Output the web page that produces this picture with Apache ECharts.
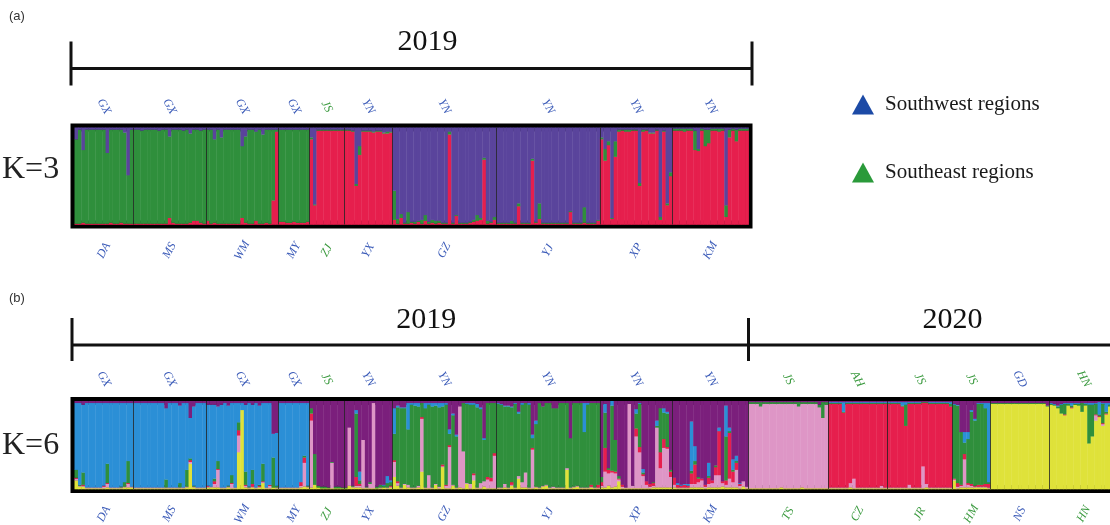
<!DOCTYPE html>
<html><head><meta charset="utf-8">
<script src="https://cdn.jsdelivr.net/npm/echarts@6.0.0/dist/echarts.min.js"></script>
<style>html,body{margin:0;padding:0;background:#fff}#c{width:1110px;height:525px}</style>
</head><body><div id="c"></div><script>
// ---------------- DATA ----------------
const pops2019 = ['DA','MS','WM','MY','ZJ','YX','GZ','YJ','XP','KM'];
const prov2019 = ['GX','GX','GX','GX','JS','YN','YN','YN','YN','YN'];
const size2019 = [17,21,21,9,10,14,30,30,21,22];
const pops2020 = ['TS','CZ','JR','HM','NS','HN'];
const prov2020 = ['JS','AH','JS','JS','GD','HN'];
const size2020 = [23,17,19,11,17,20];
const southwestProvinces = ['GX','YN','GD'];
const yearLabels = ['2019','2020'];
const legendNames = ['Southwest regions','Southeast regions'];
const kLabels = ['K=3','K=6'];
const panelLabels = ['(a)','(b)'];

// K=3 ancestry proportions (%), per individual, 2019 populations in order
const k3Red = [
 1,1,2,1,1,1,1,1,1,1,2,1,1,2,1,1,1,
 1,1,1,1,1,1,1,1,1,1,7,2,1,1,1,1,2,4,4,2,1,
 4,1,2,1,1,1,1,1,1,1,7,2,1,1,4,1,1,2,1,25,96,
 3,3,2,2,3,2,2,2,3,
 88,20,97,97,97,97,97,97,97,97,
 97,97,96,40,72,96,96,96,95,96,96,94,94,95,
 5,1,7,1,1,2,1,3,1,4,1,2,1,2,1,1,93,1,9,1,1,1,2,3,4,5,67,1,2,5,
 1,1,1,1,1,1,19,1,1,1,66,2,6,1,1,1,1,1,1,1,1,13,1,1,1,2,1,1,1,4,
 88,66,82,6,70,96,97,96,96,97,97,40,96,97,94,94,97,5,96,20,50,
 97,97,97,96,97,97,77,76,97,81,84,97,97,96,97,8,90,97,86,97,97,97
];
const k3Green = [
 87,97,75,97,97,97,97,97,97,73,96,97,97,96,94,50,97,
 97,97,96,97,97,97,97,96,97,97,84,96,97,97,96,97,92,94,94,95,97,
 94,97,86,97,89,97,97,97,97,97,74,89,97,97,92,97,92,96,97,73,2,
 95,95,96,96,95,96,96,96,95,
 2,1,1,1,1,1,1,1,1,1,
 1,1,1,2,9,1,1,1,1,1,1,1,2,1,
 30,5,4,1,12,1,2,1,4,6,2,3,3,2,1,1,3,1,1,1,1,1,1,2,6,2,2,3,1,3,
 1,1,1,1,3,1,3,1,1,1,2,1,16,1,1,1,1,1,1,1,1,1,1,1,1,16,1,1,1,1,
 2,12,4,1,16,2,1,2,2,1,1,3,2,1,1,1,1,3,1,2,4,
 2,2,2,3,2,2,20,2,2,17,14,2,2,3,2,12,8,2,12,2,2,2
];
const k3Purple = [
 12,2,23,2,2,2,2,2,2,26,2,2,2,2,5,49,2,
 2,2,3,2,2,2,2,3,2,2,9,2,2,2,3,2,6,2,2,3,2,
 2,2,12,2,10,2,2,2,2,2,19,9,2,2,4,2,7,2,2,2,2,
 2,2,2,2,2,2,2,2,2,
 10,79,2,2,2,2,2,2,2,2,
 2,2,3,58,19,3,3,3,4,3,3,5,4,4,
 65,94,89,98,87,97,97,96,95,90,97,95,96,96,98,98,4,98,90,98,98,98,97,95,90,93,31,96,97,92,
 98,98,98,98,96,98,78,98,98,98,32,97,78,98,98,98,98,98,98,98,98,86,98,98,98,82,98,98,98,95,
 10,22,14,93,14,2,2,2,2,2,2,57,2,2,5,5,2,92,3,78,46,
 1,1,1,1,1,1,3,22,1,2,2,1,1,1,1,80,2,1,2,1,1,1
];

// K=6 ancestry proportions (%), 2019 then 2020 populations in order
const k6Yellow = [
 10,3,3,1,1,1,1,1,1,2,1,1,1,1,2,2,2,
 1,1,1,1,1,1,1,1,1,1,1,1,1,1,1,2,29,2,1,1,1,
 2,2,2,2,1,1,2,1,1,42,90,2,1,2,1,2,7,1,1,2,1,
 1,1,1,1,1,1,2,3,2,
 2,5,2,1,1,1,1,1,1,1,
 1,4,2,2,2,1,1,1,1,1,1,2,1,2,
 14,4,1,5,2,1,1,2,20,1,1,1,5,1,25,1,1,4,1,2,1,6,1,10,1,1,3,1,1,1,
 1,1,2,1,4,1,12,2,2,1,1,2,1,3,4,1,1,1,1,1,22,1,2,3,1,1,1,2,1,1,
 2,2,4,2,3,9,1,1,1,1,1,1,1,1,1,2,2,2,2,2,2,
 2,1,1,1,1,2,2,2,2,1,2,2,2,2,3,2,2,2,2,1,3,1,
 1,1,1,1,1,1,1,1,1,2,1,1,1,1,1,2,1,1,1,1,1,1,1,
 1,1,1,1,1,1,2,1,1,1,1,1,1,1,1,1,1,
 1,1,1,1,1,1,1,1,1,1,1,2,1,1,1,1,1,1,1,
 10,1,2,2,2,2,2,2,2,2,1,
 97,97,97,97,97,97,97,97,97,97,97,97,97,97,97,97,94,
 96,95,92,86,84,95,92,96,95,88,95,52,60,78,82,72,85,94,95,95
];
const k6Pink = [
 2,1,1,1,1,1,1,1,2,4,1,1,1,1,1,4,1,
 1,1,1,1,1,1,1,1,1,1,1,1,1,1,1,1,2,1,1,1,1,
 1,1,4,20,1,1,1,5,1,19,0,2,1,1,1,1,1,1,3,0,1,
 1,1,1,1,1,1,2,27,1,
 76,0,0,0,0,0,29,0,0,0,
 0,66,1,2,2,55,1,5,97,0,1,0,1,1,
 17,3,1,1,3,1,1,2,60,1,15,1,1,2,1,3,47,1,1,92,42,1,5,6,1,6,6,10,8,37,
 1,1,4,1,1,1,3,6,17,1,44,1,1,1,1,1,2,1,1,1,2,1,1,1,1,1,1,1,1,1,
 2,18,14,17,15,2,2,1,96,3,59,41,14,4,2,2,68,22,45,44,12,
 3,1,1,1,1,4,4,6,8,2,4,5,14,14,4,3,10,6,20,3,6,2,
 96,96,96,93,96,96,96,96,96,95,96,96,96,96,93,95,96,96,96,96,92,80,95,
 1,1,1,1,1,1,5,11,1,1,1,1,1,1,1,3,1,
 1,1,1,1,1,1,4,1,1,1,25,4,1,1,1,1,1,1,1,
 1,2,2,32,3,2,1,1,1,1,1,
 0,0,0,0,0,0,0,0,0,0,0,0,0,0,0,0,0,
 0,0,0,0,0,0,0,0,0,0,0,0,0,6,0,2,0,0,0,0
];
const k6Red = [
 1,0,1,0,0,0,0,0,1,1,0,0,0,0,0,1,0,
 0,0,0,0,0,0,0,0,0,0,0,0,0,0,0,0,2,0,0,0,0,
 1,0,3,1,0,0,0,1,0,6,0,1,0,3,0,1,1,0,1,0,0,
 0,0,0,0,0,0,4,6,0,
 8,0,0,0,0,0,0,0,0,0,
 0,0,0,10,2,0,0,0,0,0,0,0,0,1,
 2,2,0,0,0,0,0,0,2,0,0,0,0,0,2,1,2,0,0,0,0,0,0,2,0,0,0,3,4,3,
 0,0,0,0,3,0,0,0,0,0,2,0,0,0,0,0,0,0,0,0,0,0,0,0,0,0,0,2,0,3,
 4,27,4,2,2,1,2,0,0,0,9,6,2,4,3,3,0,18,10,2,6,
 8,3,2,3,2,12,22,4,2,2,7,3,9,50,2,5,52,12,8,2,0,0,
 0,0,0,0,0,0,0,0,0,0,0,0,0,0,0,0,0,0,0,0,0,0,0,
 95,95,95,95,85,95,90,85,95,95,95,95,95,95,95,93,95,
 95,95,95,95,92,70,92,95,95,95,72,92,95,95,95,95,95,95,92,
 1,4,1,6,2,2,1,2,2,3,4,
 0,0,0,0,0,0,0,0,0,0,0,0,0,0,0,0,0,
 0,0,0,0,1,0,1,0,0,0,0,0,0,1,1,1,1,0,0,0
];
const k6Green = [
 9,1,14,0,0,0,0,0,0,22,0,0,0,1,5,25,0,
 0,0,0,0,0,0,0,0,0,9,0,0,0,5,0,19,2,1,0,0,0,
 0,0,3,9,0,0,1,9,0,9,0,15,1,16,0,1,20,0,0,34,2,
 0,0,0,0,0,0,0,2,1,
 6,35,2,2,2,1,1,2,2,1,
 1,0,1,72,4,0,1,2,0,2,3,2,5,4,
 30,84,90,86,63,94,93,90,16,90,80,92,89,90,66,91,13,79,58,0,55,90,90,78,91,84,47,84,85,57,
 95,94,88,92,85,95,71,88,79,94,11,71,96,90,93,96,89,90,96,96,74,56,95,94,96,63,94,93,96,93,
 6,40,2,74,36,3,0,0,0,0,17,49,2,0,0,1,2,50,30,38,2,
 0,0,0,0,0,3,4,2,0,0,2,0,2,0,0,50,2,2,2,0,0,0,
 2,2,2,5,2,2,2,2,2,2,2,2,2,2,5,2,2,2,2,2,3,18,3,
 1,1,1,1,1,1,1,1,1,1,1,1,1,1,1,1,1,
 1,1,1,1,1,24,1,1,1,1,1,1,1,1,1,1,1,1,3,
 84,88,60,13,50,82,74,92,92,86,2,
 1,1,1,1,1,1,1,1,1,1,1,1,1,1,1,1,1,
 1,1,2,10,12,2,2,1,2,10,2,44,36,12,2,22,2,2,2,2
];
const k6Blue = [
 76,93,77,96,96,96,96,96,94,69,96,96,96,95,90,66,95,
 96,96,96,96,96,96,96,96,96,81,96,96,96,88,96,76,46,90,96,96,96,
 92,93,84,62,94,96,91,82,96,22,8,76,95,74,96,90,69,96,93,27,60,
 96,96,96,96,96,96,90,60,94,
 0,0,0,0,0,0,0,0,0,0,
 0,0,0,4,10,0,0,0,0,0,0,1,8,2,
 29,2,1,1,30,2,3,4,0,6,2,4,3,5,4,2,5,2,2,0,0,1,2,2,4,2,2,0,0,0,
 1,1,1,1,1,1,2,2,0,2,4,4,0,0,0,0,0,0,0,0,0,0,0,0,0,33,2,0,0,0,
 0,10,0,5,0,0,0,0,0,0,5,1,4,0,0,0,6,0,5,2,0,
 0,2,1,1,2,56,17,0,0,0,15,0,0,4,0,35,4,12,6,1,0,0,
 0,0,0,0,0,0,0,0,0,0,0,0,0,0,0,0,0,0,0,0,0,0,0,
 1,1,1,1,11,1,1,1,1,1,1,1,1,1,1,1,1,
 1,1,1,1,4,3,1,1,1,1,0,0,1,1,1,1,1,1,2,
 1,1,0,12,8,2,2,1,1,6,90,
 0,0,0,0,0,0,0,0,0,0,0,0,0,0,0,0,0,
 1,1,1,1,1,1,3,1,1,0,1,2,2,1,14,1,10,2,1,1
];
const k6Purple = [
 2,2,4,2,2,2,2,2,2,2,2,2,2,2,2,2,2,
 2,2,2,2,2,2,2,2,2,8,2,2,2,5,2,2,19,6,2,2,2,
 4,4,4,6,4,2,5,2,2,2,2,4,2,4,2,5,2,2,2,37,36,
 2,2,2,2,2,2,2,2,2,
 8,60,96,97,97,98,69,97,97,98,
 98,30,96,10,80,44,97,92,2,97,95,95,85,90,
 8,5,7,7,2,2,2,2,2,2,2,2,2,2,2,2,32,14,38,6,2,2,2,2,3,7,42,2,2,2,
 2,3,5,5,6,2,12,2,2,2,38,22,2,6,2,2,8,8,2,2,2,42,2,2,2,2,2,2,2,2,
 86,3,76,0,44,85,95,98,3,96,9,2,77,91,94,92,22,8,8,12,78,
 87,93,95,94,94,23,51,86,88,95,70,90,73,30,91,5,30,66,62,93,91,97,
 1,1,1,1,1,1,1,1,1,1,1,1,1,1,1,1,1,1,1,1,4,1,1,
 1,1,1,1,1,1,1,1,1,1,1,1,1,1,1,1,1,
 1,1,1,1,1,1,1,1,1,1,1,1,1,1,1,1,1,1,1,
 3,4,35,35,35,10,20,2,2,2,2,
 2,2,2,2,2,2,2,2,2,2,2,2,2,2,2,2,5,
 2,3,5,3,2,2,2,2,2,2,2,2,2,2,1,2,2,2,2,2
];

// ---------------- STYLE ----------------
const SW = '#3b5bb8', SE = '#3b9a3f';
const k3Colors = ['#e61f4d', '#2f8f3c', '#5a449c'];
const k6Colors = ['#dfe23a', '#de96c6', '#e61f4d', '#2f8f3c', '#2b8fd6', '#7b1f7c'];
const SERIF = '"Liberation Serif", "DejaVu Serif", serif';

function bounds(sizes) { const b = []; let c = 0; sizes.forEach(s => { c += s; b.push(c); }); return b; }
function centers(sizes) { const r = []; let c = 0; sizes.forEach(s => { r.push(c + s / 2); c += s; }); return r; }

const n2019 = size2019.reduce((a, b) => a + b, 0);
const allSizes = size2019.concat(size2020);
const nAll = allSizes.reduce((a, b) => a + b, 0);
const allPops = pops2019.concat(pops2020);
const allProv = prov2019.concat(prov2020);

function tag(p) { return southwestProvinces.indexOf(p) >= 0 ? 'sw' : 'se'; }

function labelAxis(gridIndex, pos, max, sizes, texts, provs, margin) {
  const cs = centers(sizes);
  const map = {};
  cs.forEach((c, i) => { map[c.toFixed(2)] = '{' + tag(provs[i]) + '|' + texts[i] + '}'; });
  return {
    type: 'value', gridIndex, position: pos, min: 0, max,
    axisLine: { show: false }, axisTick: { show: false }, splitLine: { show: false },
    axisLabel: {
      show: true, customValues: cs, rotate: 62, margin, align: 'center', verticalAlign: 'middle',
      formatter: v => map[Number(v).toFixed(2)] || '',
      rich: {
        sw: { color: SW, fontFamily: SERIF, fontStyle: 'italic', fontSize: 12 },
        se: { color: SE, fontFamily: SERIF, fontStyle: 'italic', fontSize: 12 }
      }
    }
  };
}

function render(colors) {
  return function (params, api) {
    const i = api.value(0);
    const children = [];
    let cum = 0;
    for (let k = 0; k < colors.length; k++) {
      const v = api.value(k + 1);
      if (v > 0) {
        const p0 = api.coord([i, cum]);
        const p1 = api.coord([i + 1, cum + v]);
        children.push({ type: 'rect', shape: { x: p0[0], y: p1[1], width: p1[0] - p0[0] + 0.4, height: p0[1] - p1[1] + 0.3 },
          style: { fill: colors[k] } });
      }
      cum += v;
    }
    return { type: 'group', children };
  };
}

const dataK3 = k3Red.map((r, i) => [i, r, k3Green[i], k3Purple[i]]);
const dataK6 = k6Yellow.map((y, i) => [i, y, k6Pink[i], k6Red[i], k6Green[i], k6Blue[i], k6Purple[i]]);

function dividers(sizes) {
  const b = bounds(sizes); b.pop();
  return { silent: true, symbol: 'none', label: { show: false }, animation: false,
    lineStyle: { color: '#222', width: 1, type: 'solid', opacity: 0.8 },
    data: b.map(x => ({ xAxis: x })) };
}

const unit = 674 / n2019;
const chart = echarts.init(document.getElementById('c'), null, { renderer: 'canvas' });
chart.setOption({
  animation: false,
  backgroundColor: '#fff',
  grid: [
    { left: 74.5, top: 127.5, width: 674, height: 97, show: true, borderColor: '#000', borderWidth: 8, backgroundColor: '#fff', outerBoundsMode: 'none' },
    { left: 74.5, top: 401, width: unit * nAll, height: 88, show: true, borderColor: '#000', borderWidth: 8, backgroundColor: '#fff', outerBoundsMode: 'none' }
  ],
  xAxis: [
    labelAxis(0, 'bottom', n2019, size2019, pops2019, prov2019, 26),
    labelAxis(0, 'top', n2019, size2019, prov2019, prov2019, 21),
    labelAxis(1, 'bottom', nAll, allSizes, allPops, allProv, 25),
    labelAxis(1, 'top', nAll, allSizes, allProv, allProv, 22)
  ],
  yAxis: [
    { type: 'value', gridIndex: 0, min: 0, max: 100, show: false },
    { type: 'value', gridIndex: 1, min: 0, max: 100, show: false }
  ],
  legend: {
    left: 847, top: 89, orient: 'vertical', itemGap: 47, icon: 'triangle', itemWidth: 22, itemHeight: 20,
    selectedMode: false,
    textStyle: { fontFamily: SERIF, fontSize: 21, color: '#1a1a1a', padding: [0, 0, 0, 6] },
    data: legendNames
  },
  series: [
    { type: 'custom', name: 'K3', xAxisIndex: 0, yAxisIndex: 0, data: dataK3, renderItem: render(k3Colors),
      encode: { x: 0, y: 1 }, markLine: dividers(size2019), z: 2 },
    { type: 'custom', name: 'K6', xAxisIndex: 2, yAxisIndex: 1, data: dataK6, renderItem: render(k6Colors),
      encode: { x: 0, y: 1 }, markLine: dividers(allSizes), z: 2 },
    { type: 'scatter', name: legendNames[0], xAxisIndex: 0, yAxisIndex: 0, data: [], itemStyle: { color: '#1c4aa6', opacity: 1 } },
    { type: 'scatter', name: legendNames[1], xAxisIndex: 0, yAxisIndex: 0, data: [], itemStyle: { color: '#2a9a3a', opacity: 1 } }
  ]
});

// brackets / decorations positioned from the axes
const aL = chart.convertToPixel({ xAxisIndex: 0 }, 0) - 3.5;
const aR = chart.convertToPixel({ xAxisIndex: 0 }, n2019) + 3.5;
const bL = chart.convertToPixel({ xAxisIndex: 2 }, 0) - 2.5;
const bM = chart.convertToPixel({ xAxisIndex: 2 }, n2019);
const bR = chart.convertToPixel({ xAxisIndex: 2 }, nAll);
const ink = '#111';
function vline(x, y1, y2) { return { type: 'line', shape: { x1: x, y1, x2: x, y2 }, style: { stroke: ink, lineWidth: 3 } }; }
function hline(x1, x2, y) { return { type: 'line', shape: { x1, y1: y, x2, y2: y }, style: { stroke: ink, lineWidth: 3 } }; }
function txt(t, x, y, font, align, color) {
  return { type: 'text', x, y, style: { text: t, font, fill: color || '#111', align: align || 'center', verticalAlign: 'middle' } };
}
const yA = 68.5, yB = 345;
chart.setOption({
  graphic: [
    vline(aL, yA - 27, yA + 17), vline(aR, yA - 27, yA + 17), hline(aL, aR, yA),
    vline(bL, yB - 27, yB + 16), vline(bM, yB - 27, yB + 16), hline(bL, bR + 40, yB),
    txt(yearLabels[0], (aL + aR) / 2 + 16, 42, '30px ' + SERIF),
    txt(yearLabels[0], (bL + bM) / 2 + 16, 320, '30px ' + SERIF),
    txt(yearLabels[1], chart.convertToPixel({ xAxisIndex: 2 }, bounds(allSizes)[12]), 320, '30px ' + SERIF),
    txt(kLabels[0], 2, 170, '32px ' + SERIF, 'left', '#222'),
    txt(kLabels[1], 2, 446, '32px ' + SERIF, 'left', '#222'),
    txt(panelLabels[0], 9, 16, '13px "Liberation Sans", Arial, sans-serif', 'left', '#333'),
    txt(panelLabels[1], 9, 298, '13px "Liberation Sans", Arial, sans-serif', 'left', '#333')
  ]
});
</script></body></html>
